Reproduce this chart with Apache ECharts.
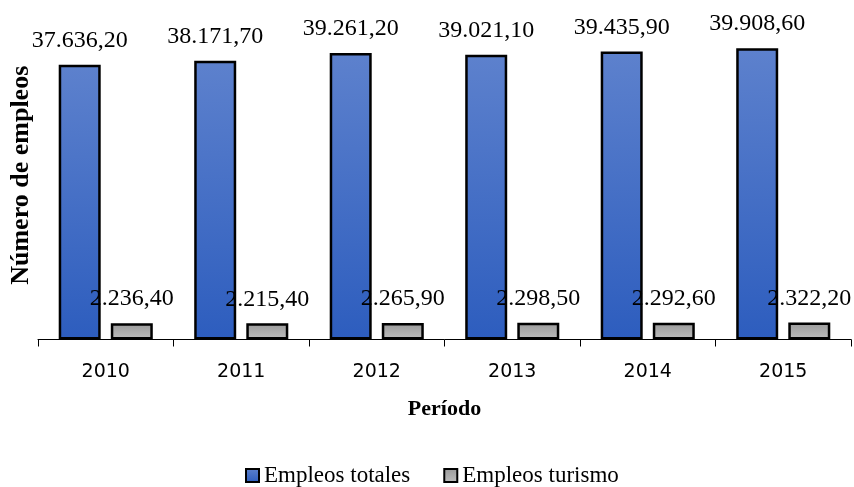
<!DOCTYPE html>
<html>
<head>
<meta charset="utf-8">
<script src="https://cdn.jsdelivr.net/npm/echarts@6/dist/echarts.min.js"></script>
<style>
  html, body { margin: 0; padding: 0; background: #fff; }
  #chart { width: 854px; height: 487px; }
</style>
</head>
<body>
<div id="chart"></div>
<script>
// Employment per year: total jobs vs. tourism jobs
var years = ['2010', '2011', '2012', '2013', '2014', '2015'];
var empleosTotales = [37636.2, 38171.7, 39261.2, 39021.1, 39435.9, 39908.6];
var empleosTurismo = [2236.4, 2215.4, 2265.9, 2298.5, 2292.6, 2322.2];

var serif = "'Liberation Serif', 'Times New Roman', serif";
var sans = "'DejaVu Sans', sans-serif";

// Spanish number format: thousands with '.', two decimals with ','
function fmtEs(v) {
  var parts = v.toFixed(2).split('.');
  var intPart = parts[0].replace(/\B(?=(\d{3})+(?!\d))/g, '.');
  return intPart + ',' + parts[1];
}

function vGrad(top, bottom) {
  return new echarts.graphic.LinearGradient(0, 0, 0, 1, [
    { offset: 0, color: top },
    { offset: 1, color: bottom }
  ]);
}

var chart = echarts.init(document.getElementById('chart'), null, { renderer: 'canvas' });

var labelStyle = {
  show: true,
  position: 'top',
  distance: 12,
  fontFamily: serif,
  fontSize: 24,
  color: '#000',
  formatter: function (p) { return fmtEs(p.value); }
};

chart.setOption({
  animation: false,
  backgroundColor: '#ffffff',
  grid: { left: 37, right: 3, top: 11, bottom: 147.5, containLabel: false },
  legend: {
    left: 240,
    top: 459,
    icon: 'rect',
    itemWidth: 13,
    itemHeight: 13,
    itemGap: 33,
    textStyle: { fontFamily: serif, fontSize: 23, color: '#000' },
    data: ['Empleos totales', 'Empleos turismo']
  },
  xAxis: {
    type: 'category',
    data: years,
    boundaryGap: true,
    name: 'Período',
    nameLocation: 'middle',
    nameGap: 70,
    nameTextStyle: { fontFamily: serif, fontSize: 22, fontWeight: 'bold', color: '#000', verticalAlign: 'middle' },
    axisLine: { lineStyle: { color: '#000', width: 1 } },
    axisTick: { show: true, alignWithLabel: false, length: 7, lineStyle: { color: '#000' } },
    axisLabel: { fontFamily: sans, fontSize: 19, color: '#000', margin: 23 }
  },
  yAxis: {
    type: 'value',
    min: 0,
    max: 45000,
    name: 'Número de empleos',
    nameLocation: 'middle',
    nameRotate: 90,
    nameGap: 17,
    nameTextStyle: { fontFamily: serif, fontSize: 26, fontWeight: 'bold', color: '#000', verticalAlign: 'middle' },
    axisLine: { show: false },
    axisTick: { show: false },
    axisLabel: { show: false },
    splitLine: { show: false }
  },
  series: [
    {
      name: 'Empleos totales',
      type: 'bar',
      data: empleosTotales,
      barWidth: 42,
      barGap: '24%',
      itemStyle: {
        color: vGrad('#5d81cd', '#2d5dbe'),
        borderColor: '#000',
        borderWidth: 2.5
      },
      label: labelStyle
    },
    {
      name: 'Empleos turismo',
      type: 'bar',
      data: empleosTurismo,
      barWidth: 42,
      itemStyle: {
        color: vGrad('#9a9a9a', '#bdbdbd'),
        borderColor: '#000',
        borderWidth: 2.5
      },
      label: labelStyle
    }
  ]
});
</script>
</body>
</html>
